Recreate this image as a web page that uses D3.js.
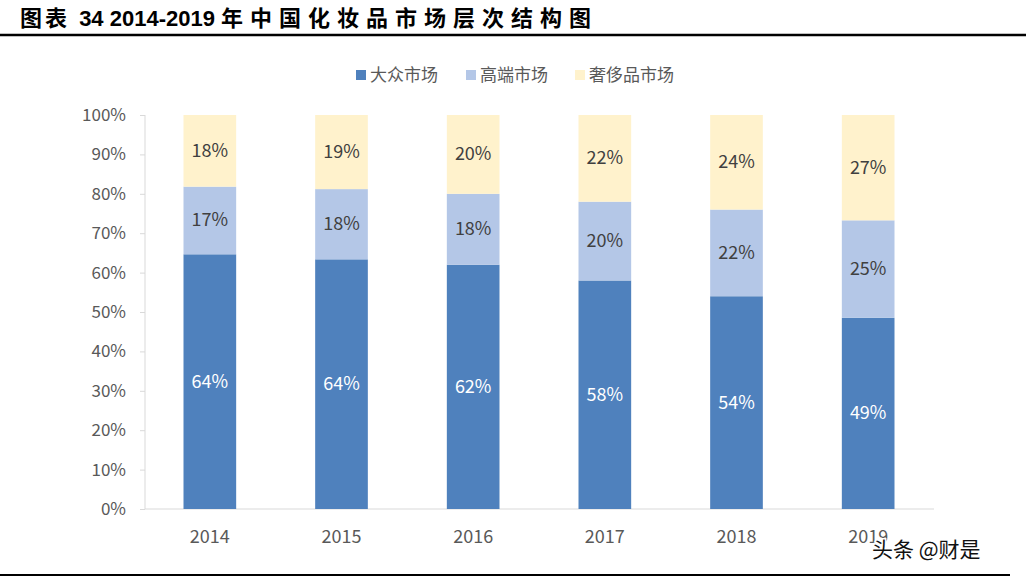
<!DOCTYPE html>
<html><head><meta charset="utf-8">
<script src="https://cdn.jsdelivr.net/npm/d3@7/dist/d3.min.js"></script>
<style>body{margin:0;background:#fff}svg{display:block}</style>
</head><body><svg id="c" width="1026" height="580"></svg>
<script>
const years = ["2014","2015","2016","2017","2018","2019"];
const massMarket = [64, 64, 62, 58, 54, 49];
const highEnd = [17, 18, 18, 20, 22, 25];
const luxury = [18, 19, 20, 22, 24, 27];
const seriesNames = ["大众市场","高端市场","奢侈品市场"];
const yTicks = [0,0.1,0.2,0.3,0.4,0.5,0.6,0.7,0.8,0.9,1];

const colors = ["#4F81BD","#B4C7E7","#FFF2CC"];
const labelColors = ["#ffffff","#404040","#404040"];
const svg = d3.select("#c");
const font = "'Noto Sans CJK SC','Noto Sans',sans-serif";

// title
const title = svg.append("text").attr("x",20).attr("y",26)
  .attr("font-family","'Liberation Sans','Noto Sans CJK SC',sans-serif").attr("font-weight","bold")
  .attr("font-size",22).attr("fill","#000");
title.append("tspan").attr("letter-spacing",3).text("图表 ");
title.append("tspan").text(" 34 2014-2019 ");
title.append("tspan").attr("letter-spacing",7).text("年中国化妆品市场层次结构图");
svg.append("line").attr("x1",0).attr("x2",1026).attr("y1",35).attr("y2",35).attr("stroke","#000").attr("stroke-width",2.5);
svg.append("line").attr("x1",0).attr("x2",1010).attr("y1",575).attr("y2",575).attr("stroke","#000").attr("stroke-width",2);

const rows = years.map((y,i)=>({year:y, s0:massMarket[i], s1:highEnd[i], s2:luxury[i]}));
const stack = d3.stack().keys(["s0","s1","s2"]).offset(d3.stackOffsetExpand)(rows);

const x = d3.scaleBand().domain(years).range([144,934]).paddingInner(0.6).paddingOuter(0.3);
const y = d3.scaleLinear().domain([0,1]).range([509,115]);

// y axis
const ya = svg.append("g").attr("transform","translate(145,0)")
  .call(d3.axisLeft(y).tickValues(yTicks).tickFormat(d3.format(".0%")).tickSize(5).tickPadding(14));
ya.select(".domain").attr("stroke","#d9d9d9").attr("d","M0,115V509");
ya.selectAll(".tick line").attr("stroke","#d9d9d9");
ya.selectAll("text").attr("font-family",font).attr("font-size",17).attr("fill","#595959");

// x axis
const xa = svg.append("g").attr("transform","translate(0,509)")
  .call(d3.axisBottom(x).tickSize(0).tickPadding(21));
xa.select(".domain").attr("stroke","#d9d9d9").attr("d","M145,0H934");
xa.selectAll("text").attr("font-family",font).attr("font-size",18).attr("fill","#595959");

// bars
stack.forEach((layer,li)=>{
  const g = svg.append("g");
  g.selectAll("rect").data(layer).enter().append("rect")
    .attr("x",d=>x(d.data.year)).attr("width",x.bandwidth())
    .attr("y",d=>y(d[1])).attr("height",d=>y(d[0])-y(d[1]))
    .attr("fill",colors[li]);
  g.selectAll("text").data(layer).enter().append("text")
    .attr("x",d=>x(d.data.year)+x.bandwidth()/2)
    .attr("y",d=>(y(d[0])+y(d[1]))/2+6)
    .attr("text-anchor","middle").attr("font-family",font).attr("font-size",18)
    .attr("fill",labelColors[li])
    .text(d=>d.data["s"+li]+"%");
});

// legend
const legX = [356,466,575];
seriesNames.forEach((n,i)=>{
  svg.append("rect").attr("x",legX[i]).attr("y",70).attr("width",10).attr("height",10).attr("fill",colors[i]);
  svg.append("text").attr("x",legX[i]+14).attr("y",81).attr("font-family",font).attr("font-size",17)
    .attr("fill","#595959").text(n);
});

// watermark
svg.append("text").attr("x",872).attr("y",557).attr("font-family",font).attr("font-size",21)
  .attr("fill","#111").attr("stroke","#fff").attr("stroke-width",3).attr("paint-order","stroke")
  .text("头条 @财是");
</script></body></html>
